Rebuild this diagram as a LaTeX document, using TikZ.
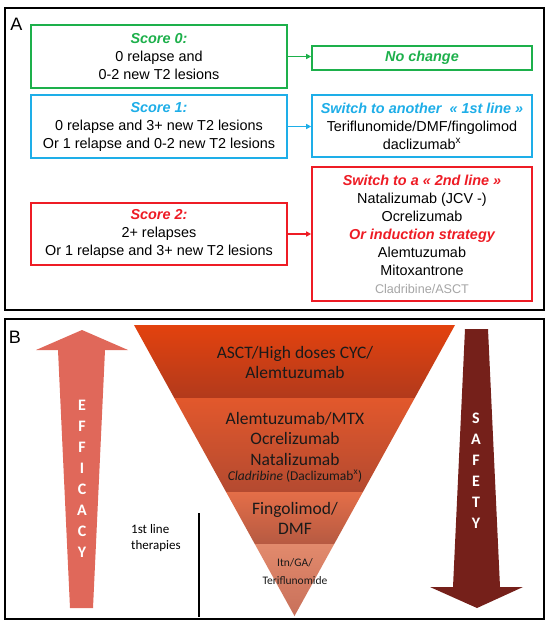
\documentclass[tikz,border=0pt]{standalone}
\usepackage{fontspec}
\setmainfont{Liberation Sans}
\newfontfamily\carl{Carlito}
\usetikzlibrary{arrows.meta,calc}
\definecolor{cgreen}{HTML}{1DB04B}
\definecolor{cblue}{HTML}{1EAEE8}
\definecolor{cred}{HTML}{EE1C25}
\definecolor{cgray}{HTML}{A6A6A6}
\definecolor{eff}{HTML}{E0685A}
\definecolor{saf}{HTML}{75201A}
\definecolor{bat}{HTML}{E3420E}
\definecolor{bab}{HTML}{B23A1C}
\definecolor{bbt}{HTML}{E2582C}
\definecolor{bbb}{HTML}{B44A30}
\definecolor{bct}{HTML}{E46E48}
\definecolor{bcb}{HTML}{B65A42}
\definecolor{bdt}{HTML}{E28A6C}
\definecolor{bdb}{HTML}{C8705A}
\definecolor{btext}{HTML}{1A1A1A}
\begin{document}
\begin{tikzpicture}[x=1pt,y=-1pt,
  box/.style={draw,line width=1.6pt,align=center,inner sep=0pt,text=black,font=\fontsize{14.4}{18}\selectfont},
  lbox/.style={box,minimum width=256pt,minimum height=63pt},
  rbox/.style={box,minimum width=220pt},
  link/.style={line width=1.4pt,-{Triangle[length=5pt,width=5pt]}},
  frame/.style={draw=black,line width=2.2pt},
  band/.style={font=\carl\fontsize{17.5}{20.5}\selectfont,align=center,inner sep=0pt,text=btext},
  letters/.style={font=\carl\bfseries\fontsize{16}{21}\selectfont,text=white,align=center,inner sep=0pt},
  panlab/.style={font=\fontsize{18}{18}\selectfont,inner sep=0pt}
]
\useasboundingbox (0,0) rectangle (550,629);
\fill[white] (0,0) rectangle (550,629);
% ---------- Panel A ----------
\draw[frame] (5,8) rectangle (544,310);
\node[panlab] (la) at (16.5,24) {A};
\node[lbox,draw=cgreen] (s0) at (159,56.5) {\textcolor{cgreen}{\bfseries\itshape Score 0:}\\0 relapse and\\0-2 new T2 lesions};
\node[rbox,draw=cgreen,minimum height=24pt,text=cgreen,font=\bfseries\itshape\fontsize{14.4}{18}\selectfont] (nc) at (422,58) {No change};
\node[lbox,draw=cblue] (s1) at (159,126.5) {\textcolor{cblue}{\bfseries\itshape Score 1:}\\0 relapse and 3+ new T2 lesions\\Or 1 relapse and 0-2 new T2 lesions};
\node[rbox,draw=cblue,minimum height=62pt] (r1) at (422,126) {\textcolor{cblue}{\bfseries\itshape Switch to another~ « 1st line »}\\Teriflunomide/DMF/fingolimod\\daclizumab\textsuperscript{x}};
\node[lbox,draw=cred,minimum height=62pt] (s2) at (159,234) {\textcolor{cred}{\bfseries\itshape Score 2:}\\2+ relapses\\Or 1 relapse and 3+ new T2 lesions};
\node[rbox,draw=cred,minimum height=134pt] (r2) at (422,234) {\textcolor{cred}{\bfseries\itshape Switch to a « 2nd line »}\\Natalizumab (JCV -)\\Ocrelizumab\\\textcolor{cred}{\bfseries\itshape Or induction strategy}\\Alemtuzumab\\Mitoxantrone\\\textcolor{cgray}{\fontsize{12.6}{18}\selectfont Cladribine/ASCT}};
\draw[link,cgreen] (s0.east) -- (s0.east -| nc.west);
\draw[link,cblue] (s1.east) -- (s1.east -| r1.west);
\draw[link,cred] (s2.east) -- (s2.east -| r2.west);
% ---------- Panel B ----------
\draw[frame] (5,319) rectangle (544,619);
\node[panlab] (lb) at (15,337.5) {B};
\coordinate (TL) at (134,325);
\coordinate (TR) at (455,325);
\coordinate (AP) at (294.5,616);
\coordinate (L1) at ($(TL)!.2509!(AP)$);
\coordinate (R1) at ($(TR)!.2509!(AP)$);
\coordinate (L2) at ($(TL)!.5739!(AP)$);
\coordinate (R2) at ($(TR)!.5739!(AP)$);
\coordinate (L3) at ($(TL)!.7526!(AP)$);
\coordinate (R3) at ($(TR)!.7526!(AP)$);
\shade[top color=bat,bottom color=bab] (TL)--(TR)--(R1)--(L1)--cycle;
\shade[top color=bbt,bottom color=bbb] (L1)--(R1)--(R2)--(L2)--cycle;
\shade[top color=bct,bottom color=bcb] (L2)--(R2)--(R3)--(L3)--cycle;
\shade[top color=bdt,bottom color=bdb] (L3)--(R3)--(AP)--cycle;
\node[band] (t1) at (295,362.5) {ASCT/High doses CYC/\\Alemtuzumab};
\node[band] (t2) at (295,438.5) {Alemtuzumab/MTX\\Ocrelizumab\\Natalizumab};
\node[band,font=\carl\fontsize{13.5}{16}\selectfont] (t2b) at (295,476) {\textit{Cladribine} (Daclizumab\textsuperscript{x})};
\node[band] (t3) at (295,518.5) {Fingolimod/\\DMF};
\node[band,font=\carl\fontsize{11.5}{18}\selectfont] (t4) at (295,572) {Itn/GA/\\Teriflunomide};
% efficacy arrow
\fill[eff] (82,330)--(128,350)--(105,350)--(93,608)--(70,608)--(58,350)--(36,350)--cycle;
\node[letters] (ef) at (82,478.5) {E\\F\\F\\I\\C\\A\\C\\Y};
% safety arrow
\fill[saf] (465,329)--(488,329)--(500,587)--(523,587)--(477,608)--(430,587)--(453,587)--cycle;
\node[letters] (sf) at (476,470.5) {S\\A\\F\\E\\T\\Y};
% first line therapies
\node[anchor=west,align=left,font=\carl\fontsize{13}{16}\selectfont,inner sep=0pt] (fl) at (131,538) {1st line\\therapies};
\coordinate (v1) at (199,513);
\coordinate (v2) at (199,617);
\draw[line width=1.6pt] (v1) -- (v2);
\end{tikzpicture}
\end{document}
